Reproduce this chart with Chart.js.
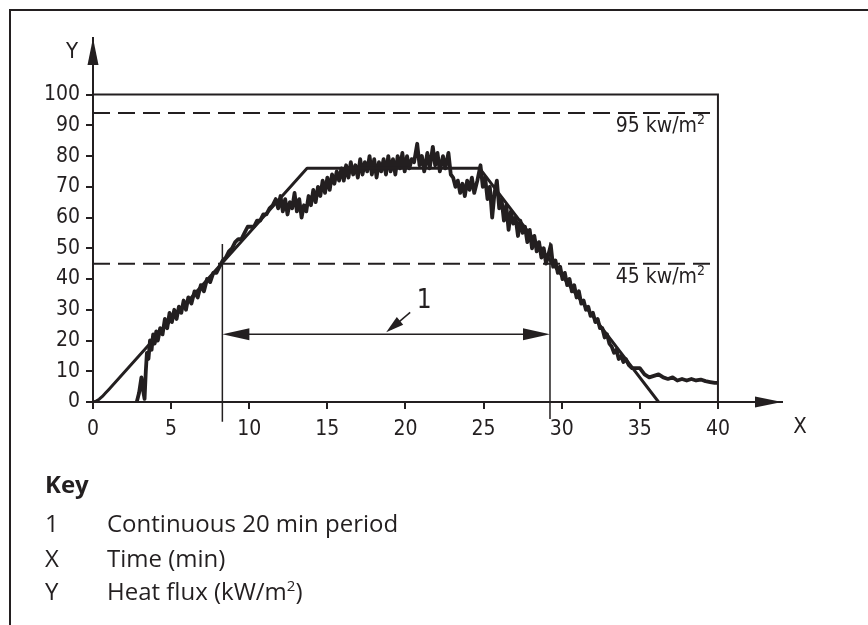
<!DOCTYPE html>
<html>
<head>
<meta charset="utf-8">
<script src="https://cdn.jsdelivr.net/npm/chart.js@4"></script>
<style>
  body { margin: 0; background: #fff; }
  #wrap { position: relative; width: 868px; height: 625px; overflow: hidden; }
  #frame { position: absolute; left: 9px; top: 9px; width: 900px; height: 700px;
           border-left: 2px solid #231f20; border-top: 2px solid #231f20; }
  canvas { position: absolute; left: 0; top: 0; }
  .key { position: absolute; font-family: "Open Sans"; font-size: 24px; line-height: 30px;
         color: #231f20; white-space: nowrap; }
  .key sup { font-size: 15px; line-height: 0; }
</style>
</head>
<body>
<div id="wrap">
  <div id="frame"></div>
  <canvas id="fluxChart" width="868" height="625"></canvas>
  <div class="key" style="left:45px; top:469px; font-weight:bold;">Key</div>
  <div class="key" style="left:45px; top:508px;">1</div>
  <div class="key" style="left:107px; top:508px;">Continuous 20 min period</div>
  <div class="key" style="left:45px; top:543px;">X</div>
  <div class="key" style="left:107px; top:543px;">Time (min)</div>
  <div class="key" style="left:45px; top:576px;">Y</div>
  <div class="key" style="left:107px; top:576px;">Heat flux (kW/m<sup>2</sup>)</div>
</div>
<script>
// tick labels
const xTicks = [0, 5, 10, 15, 20, 25, 30, 35, 40];
const yTicks = [0, 10, 20, 30, 40, 50, 60, 70, 80, 90, 100];

// target (trapezoid) curve
const trapX = [0, 0.2, 0.4, 0.6, 0.8, 1.0, 13.7, 24.75, 36.2];
const trapY = [0, 0.3, 0.9, 1.8, 2.9, 4.0, 76, 76, 0];

// measured heat flux
const measX = [2.8, 2.95, 3.1, 3.2, 3.3, 3.38, 3.45, 3.55, 3.65, 3.75, 3.85, 3.95, 4.05, 4.15, 4.3, 4.45,
  4.6, 4.75, 4.9, 5.05, 5.2, 5.35, 5.5, 5.65, 5.8, 5.95, 6.1, 6.3, 6.5, 6.7, 6.9, 7.1, 7.3, 7.5, 7.7, 7.9,
  8.1, 8.3, 8.5, 8.7, 8.9, 9.1, 9.3, 9.5, 9.7, 9.9, 10.1, 10.3, 10.5, 10.7, 10.9, 11.1, 11.3, 11.5, 11.7,
  11.85, 12.0, 12.15, 12.3, 12.45, 12.6, 12.75, 12.9, 13.05, 13.2, 13.35, 13.5, 13.65, 13.8, 13.95, 14.1,
  14.25, 14.4, 14.55, 14.7, 14.85, 15.0, 15.15, 15.3, 15.45, 15.6, 15.75, 15.9, 16.05, 16.2, 16.35, 16.5,
  16.65, 16.8, 16.95, 17.1, 17.25, 17.4, 17.55, 17.7, 17.85, 18.0, 18.15, 18.3, 18.45, 18.6, 18.75, 18.9,
  19.05, 19.2, 19.35, 19.5, 19.65, 19.8, 19.95, 20.1, 20.25, 20.4, 20.55, 20.75, 20.9, 21.05, 21.2, 21.4,
  21.55, 21.75, 21.9, 22.05, 22.2, 22.4, 22.55, 22.75, 22.9, 23.05, 23.2, 23.35, 23.5, 23.65, 23.8, 23.95,
  24.1, 24.25, 24.4, 24.6, 24.8, 24.95, 25.1, 25.25, 25.4, 25.55, 25.7, 25.85, 26.0, 26.15, 26.3, 26.45,
  26.6, 26.75, 26.9, 27.05, 27.2, 27.35, 27.5, 27.65, 27.8, 27.95, 28.1, 28.25, 28.4, 28.55, 28.7, 28.85,
  29.0, 29.15, 29.3, 29.45, 29.6, 29.75, 29.9, 30.05, 30.2, 30.35, 30.5, 30.65, 30.8, 30.95, 31.1, 31.25,
  31.4, 31.55, 31.7, 31.85, 32.0, 32.15, 32.3, 32.45, 32.6, 32.75, 32.9, 33.05, 33.2, 33.35, 33.5, 33.65,
  33.8, 33.95, 34.1, 34.3, 34.5, 34.8, 35.0, 35.3, 35.6, 35.9, 36.2, 36.5, 36.8, 37.1, 37.4, 37.7, 38.0,
  38.3, 38.6, 38.9, 39.2, 39.5, 39.8, 40.0];
const measY = [0, 3, 8, 4, 1, 10, 16, 14, 20, 17, 22, 19, 23, 20, 24, 22,
  27, 24, 29, 26, 30, 27, 31, 29, 33, 30, 34, 32, 36, 34, 38, 36, 40, 39, 42, 42,
  44, 46, 47, 49, 50, 52, 53, 53, 55, 57, 57, 57, 59, 59, 61, 61, 63, 64, 66,
  63, 67, 62, 66, 61, 65, 63, 68, 62, 66, 60, 64, 62, 67, 64, 69,
  65, 70, 67, 72, 68, 73, 69, 74, 71, 75, 72, 76, 72, 77, 73, 78,
  74, 77, 73, 79, 74, 78, 75, 80, 74, 79, 73, 78, 75, 79, 74, 80,
  75, 79, 74, 80, 76, 81, 75, 80, 76, 79, 78, 84, 77, 80, 75, 81,
  76, 83, 77, 81, 75, 80, 76, 81, 74, 73, 70, 72, 68, 71, 67, 72,
  69, 73, 68, 72, 77, 70, 73, 66, 70, 60, 68, 72, 63, 66, 59, 64,
  56, 62, 58, 60, 54, 59, 55, 57, 52, 56, 50, 54, 49, 52, 47, 50,
  45, 48, 51, 44, 46, 42, 44, 40, 42, 38, 40, 36, 38, 34, 36, 32,
  33, 30, 31, 28, 29, 26, 27, 24, 24, 21, 22, 19, 18, 16, 17, 14,
  15, 13, 14, 12, 11, 11, 11, 9, 8, 8.5, 9, 8, 7.5, 8, 7, 7.5, 7,
  7.5, 7, 7.3, 6.8, 6.5, 6.2, 6.2];

// reference levels and the 20 min window
const limitLevels = [94, 45];
const limitLabels = ['95 kw/m', '45 kw/m'];
const periodStart = 8.28;
const periodEnd = 29.25;
const periodLevel = 22;

const ink = '#231f20';
const tickFont = { family: '"DejaVu Sans Condensed", "DejaVu Sans"', size: 21 };

function pts(xs, ys) {
  return xs.map((x, i) => ({ x: x, y: ys[i] }));
}

function arrowHead(ctx, tx, ty, fromX, fromY, len, half) {
  const a = Math.atan2(ty - fromY, tx - fromX);
  ctx.beginPath();
  ctx.moveTo(tx, ty);
  ctx.lineTo(tx - len * Math.cos(a) + half * Math.sin(a), ty - len * Math.sin(a) - half * Math.cos(a));
  ctx.lineTo(tx - len * Math.cos(a) - half * Math.sin(a), ty - len * Math.sin(a) + half * Math.cos(a));
  ctx.closePath();
  ctx.fill();
}

const extras = {
  id: 'extras',
  afterDraw(chart) {
    const ctx = chart.ctx;
    const xs = chart.scales.x, ys = chart.scales.y;
    const area = chart.chartArea;
    ctx.save();
    ctx.fillStyle = ink;
    ctx.strokeStyle = ink;

    // axis arrows
    arrowHead(ctx, area.left, area.top, area.left, area.top + 30, 27, 5.5);
    arrowHead(ctx, area.right, area.bottom, area.right - 30, area.bottom, 27, 5.5);

    ctx.font = '22px "DejaVu Sans Condensed", "DejaVu Sans"';
    ctx.textBaseline = 'alphabetic';
    ctx.textAlign = 'center';
    ctx.fillText('Y', 72, 58);
    ctx.fillText('X', area.right + 18, 433);

    // limit labels with superscript
    const rightEdge = 705;
    limitLevels.forEach((lv, i) => {
      const base = ys.getPixelForValue(lv) + 19;
      ctx.font = '21px "DejaVu Sans Condensed", "DejaVu Sans"';
      const w = ctx.measureText(limitLabels[i]).width;
      ctx.font = '14px "DejaVu Sans Condensed", "DejaVu Sans"';
      const w2 = ctx.measureText('2').width;
      ctx.textAlign = 'left';
      ctx.font = '21px "DejaVu Sans Condensed", "DejaVu Sans"';
      ctx.fillText(limitLabels[i], rightEdge - w2 - w, base);
      ctx.font = '14px "DejaVu Sans Condensed", "DejaVu Sans"';
      ctx.fillText('2', rightEdge - w2, base - 8);
    });

    // double arrow for the 20 min period
    const x1 = xs.getPixelForValue(periodStart);
    const x2 = xs.getPixelForValue(periodEnd);
    const yA = ys.getPixelForValue(periodLevel);
    ctx.lineWidth = 1.5;
    ctx.beginPath();
    ctx.moveTo(x1 + 10, yA);
    ctx.lineTo(x2 - 10, yA);
    ctx.stroke();
    arrowHead(ctx, x1, yA, x1 + 30, yA, 27, 6);
    arrowHead(ctx, x2, yA, x2 - 30, yA, 27, 6);

    // callout "1"
    const mid = (x1 + x2) / 2;
    ctx.beginPath();
    ctx.moveTo(mid + 24, yA - 22);
    ctx.lineTo(mid + 4, yA - 5);
    ctx.stroke();
    arrowHead(ctx, mid, yA - 2, mid + 24, yA - 22, 18, 5);
    ctx.font = '26px "DejaVu Sans Condensed", "DejaVu Sans"';
    ctx.textAlign = 'center';
    ctx.fillText('1', mid + 38, yA - 26);
    ctx.restore();
  }
};

new Chart(document.getElementById('fluxChart').getContext('2d'), {
  type: 'line',
  data: {
    datasets: [
      { data: [{ x: 0, y: 100 }, { x: 40, y: 100 }, { x: 40, y: 0 }], borderColor: ink, borderWidth: 2 },
      { data: [{ x: 0, y: limitLevels[0] }, { x: 40, y: limitLevels[0] }], borderColor: ink, borderWidth: 2, borderDash: [17, 8] },
      { data: [{ x: 0, y: limitLevels[1] }, { x: 40, y: limitLevels[1] }], borderColor: ink, borderWidth: 2, borderDash: [17, 8] },
      { data: [{ x: periodStart, y: 51.4 }, { x: periodStart, y: -6.4 }], borderColor: ink, borderWidth: 1.5, clip: false },
      { data: [{ x: periodEnd, y: 52 }, { x: periodEnd, y: -5.5 }], borderColor: ink, borderWidth: 1.5, clip: false },
      { data: pts(trapX, trapY), borderColor: ink, borderWidth: 3, borderJoinStyle: 'round' },
      { data: pts(measX, measY), borderColor: ink, borderWidth: 3.8, borderJoinStyle: 'round' }
    ]
  },
  options: {
    responsive: false,
    animation: false,
    events: [],
    layout: { padding: { left: 0, right: 86, top: 38, bottom: 183 } },
    elements: { point: { radius: 0 }, line: { tension: 0, fill: false } },
    plugins: { legend: { display: false }, tooltip: { enabled: false } },
    scales: {
      x: {
        type: 'linear', min: 0, max: 44.1,
        afterBuildTicks: s => { s.ticks = xTicks.map(v => ({ value: v })); },
        afterFit: s => { s.height = 40; },
        ticks: { font: tickFont, color: ink, padding: 8, maxRotation: 0, autoSkip: false },
        grid: { drawOnChartArea: false, drawTicks: true, tickLength: 7, color: ink, lineWidth: 2 },
        border: { display: true, color: ink, width: 2 }
      },
      y: {
        type: 'linear', min: 0, max: 118.4,
        afterBuildTicks: s => { s.ticks = yTicks.map(v => ({ value: v })); },
        afterFit: s => { s.width = 93; },
        ticks: { font: tickFont, color: ink, padding: 6, autoSkip: false },
        grid: { drawOnChartArea: false, drawTicks: true, tickLength: 7, color: ink, lineWidth: 2 },
        border: { display: true, color: ink, width: 2 }
      }
    }
  },
  plugins: [extras]
});
</script>
</body>
</html>
